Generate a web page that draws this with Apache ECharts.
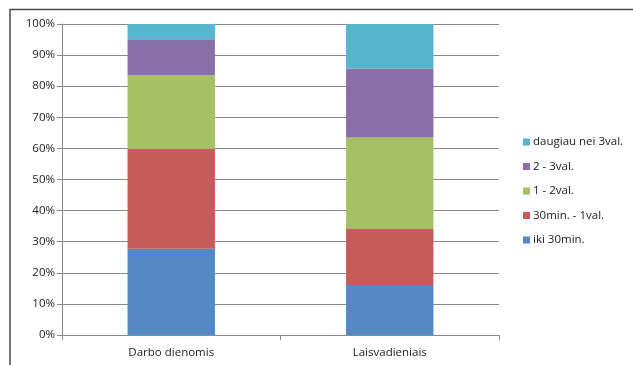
<!DOCTYPE html>
<html>
<head>
<meta charset="utf-8">
<script src="https://cdn.jsdelivr.net/npm/echarts@6/dist/echarts.min.js"></script>
<style>
  html, body { margin: 0; padding: 0; background: #ffffff; }
  #chart { width: 633px; height: 365px; }
</style>
</head>
<body>
<div id="chart"></div>
<script>
// Categories along the x axis
const categories = ['Darbo dienomis', 'Laisvadieniais'];

// Share of respondents per time band (%), stacked to 100
const seriesNames = ['iki 30min.', '30min. - 1val.', '1 - 2val.', '2 - 3val.', 'daugiau nei 3val.'];
const ikiTrisdesimt = [27.7, 16.1];
const trisdesimtIkiVal = [32.1, 18.0];
const vienaDvi = [23.7, 29.4];
const dviTrys = [11.6, 22.2];
const daugiauTrys = [4.9, 14.3];

const yTicks = { min: 0, max: 100, interval: 10 };

const colors = ['#5588c4', '#c75b59', '#a5c164', '#8a6fa8', '#57b5cd'];
const values = [ikiTrisdesimt, trisdesimtIkiVal, vienaDvi, dviTrys, daugiauTrys];

const font = 'Open Sans';
const gridColor = '#8a8a8a';

const chart = echarts.init(document.getElementById('chart'), null, { renderer: 'canvas' });

chart.setOption({
  animation: false,
  backgroundColor: '#ffffff',
  graphic: [{
    type: 'rect',
    shape: { x: 10, y: 9.5, width: 640, height: 400 },
    style: { fill: 'none', stroke: '#4a4a4a', lineWidth: 1.5 },
    silent: true
  }],
  grid: { left: 62, right: 134, top: 24, bottom: 30 },
  legend: {
    orient: 'vertical',
    left: 518,
    top: 130,
    itemWidth: 7,
    itemHeight: 7,
    itemGap: 10.5,
    icon: 'rect',
    data: seriesNames.slice().reverse(),
    textStyle: { fontFamily: font, fontSize: 11.5, color: '#1a1a1a', lineHeight: 14, padding: [0, 0, 0, -2] }
  },
  xAxis: {
    type: 'category',
    data: categories,
    axisLine: { lineStyle: { color: gridColor, width: 1 } },
    axisTick: { show: true, length: 5, lineStyle: { color: gridColor } },
    axisLabel: { fontFamily: font, fontSize: 11.5, color: '#1a1a1a', margin: 12 }
  },
  yAxis: {
    type: 'value',
    min: yTicks.min,
    max: yTicks.max,
    interval: yTicks.interval,
    axisLine: { show: true, lineStyle: { color: gridColor, width: 1 } },
    axisTick: { show: true, length: 5, lineStyle: { color: gridColor } },
    axisLabel: { formatter: '{value}%', fontFamily: font, fontSize: 11.5, color: '#1a1a1a', margin: 7 },
    splitLine: { show: true, lineStyle: { color: gridColor, width: 1 } }
  },
  series: seriesNames.map((name, i) => ({
    name: name,
    type: 'bar',
    stack: 'total',
    barWidth: '40%',
    data: values[i],
    itemStyle: { color: colors[i] }
  }))
});
</script>
</body>
</html>
